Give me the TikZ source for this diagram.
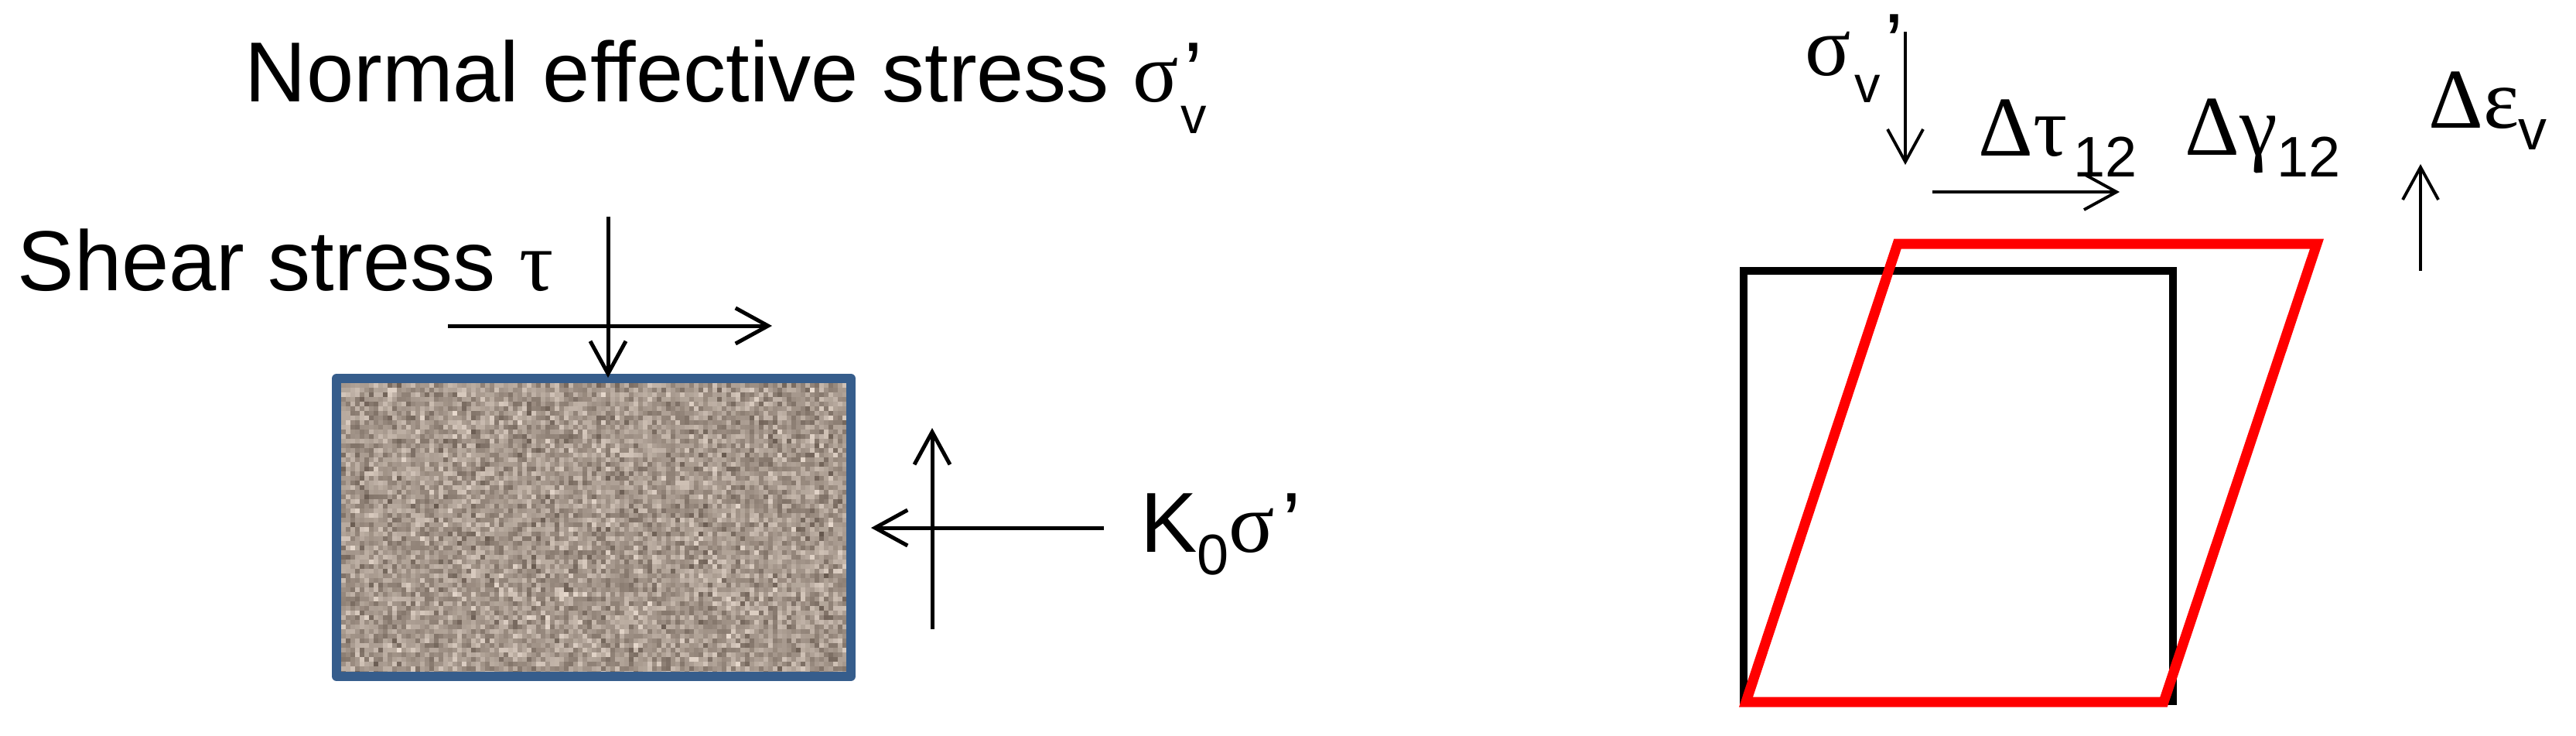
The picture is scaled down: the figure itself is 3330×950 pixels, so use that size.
\documentclass[tikz,border=0pt]{standalone}
\usepackage{fontspec}
\setmainfont{Liberation Sans}
\newfontfamily\gk{Liberation Serif}
\usetikzlibrary{arrows.meta}
\definecolor{boxblue}{RGB}{54,93,140}
\definecolor{sandlight}{RGB}{238,224,212}
\definecolor{sanddark}{RGB}{58,44,34}
\definecolor{sandbase}{RGB}{163,150,139}
\definecolor{shearred}{RGB}{255,0,0}
\tikzset{
  lab/.style={anchor=base west, inner sep=0pt, font=\fontsize{31.3}{36}\selectfont},
  gklab/.style={anchor=base west, inner sep=0pt, font=\gk\fontsize{31.3}{36}\selectfont},
  sublab/.style={anchor=base west, inner sep=0pt, font=\fontsize{19}{22}\selectfont},
  subbig/.style={anchor=base west, inner sep=0pt, font=\fontsize{21}{24}\selectfont},
  force/.style={line width=1.42pt, -{Straight Barb[length=4.2mm,width=4.6mm]}},
  forcethin/.style={line width=1.1pt, -{Straight Barb[length=4.2mm,width=4.6mm]}},
  soilborder/.style={draw=boxblue, line width=3.4pt, line join=round},
  oldbox/.style={draw=black, line width=2.85pt, line join=miter},
  newbox/.style={draw=shearred, line width=3.7pt, line join=miter},
}
\begin{document}
\begin{tikzpicture}[x=0.01cm, y=-0.01cm]
\useasboundingbox (0,0) rectangle (3330,950);

% ---------- left: soil element ----------
\begin{scope}
  \clip (435,489) rectangle (1100,874);
  \fill[sandbase] (435,489) rectangle (1100,874);
  \pgfmathsetseed{12345}
  \foreach \i in {0,...,110}{
    \foreach \j in {0,...,64}{
      \pgfmathtruncatemacro\p{22+78*(rnd+rnd+rnd)/3}
      \fill[sandlight!\p!sanddark] ({435+6*\i},{489+6*\j}) rectangle ++(6.4,6.4);
    }
  }
\end{scope}
\draw[soilborder] (435,489) rectangle (1100,874);
\node[inner sep=0pt, minimum width=0pt] (soil) at (767,681) {};

% title
\node[lab] (title) at (316,131) {Normal effective stress {\gk\fontsize{31.3}{36}\selectfont σ}};
\node[sublab] (titlev) at (1526,172) {v};
\node[lab] (titlep) at (1530,131) {’};

% shear
\node[lab] (shear) at (22,375) {Shear stress {\gk\fontsize{31.3}{36}\selectfont τ}};
\coordinate (vtop) at (786,280);
\coordinate (vbot) at (786,488);
\coordinate (hleft) at (579,421);
\coordinate (hright) at (998,421);
\draw[force] (vtop) -- (vbot);
\draw[force] (hleft) -- (hright);

% lateral
\coordinate (ubot) at (1205,813);
\coordinate (utop) at (1205,553);
\coordinate (lright) at (1427,682);
\coordinate (lleft) at (1126,682);
\draw[force] (ubot) -- (utop);
\draw[force] (lright) -- (lleft);
\node[lab] (kk) at (1474,713) {K};
\node[subbig] (k0) at (1547,742) {0};
\node[gklab] (ks) at (1588,713) {\gk σ};
\node[lab] (kp) at (1657,713) {’};

% ---------- right: shear deformation ----------
\coordinate (a1) at (2254,350);
\coordinate (a2) at (2809,350);
\coordinate (a3) at (2809,906);
\coordinate (a4) at (2254,906);
\draw[oldbox] (a1) -- (a2) -- (a3) -- (a4) -- cycle;
\coordinate (b1) at (2453,315);
\coordinate (b2) at (2995,315);
\coordinate (b3) at (2797,907);
\coordinate (b4) at (2257,907);
\draw[newbox] (b1) -- (b2) -- (b3) -- (b4) -- cycle;

\node[gklab] (rs) at (2333,97) {\gk σ};
\node[sublab] (rsv) at (2397,132) {v};
\node[lab] (rsp) at (2436,94) {’};
\coordinate (rdtop) at (2463,41);
\coordinate (rdbot) at (2463,213);
\draw[forcethin] (rdtop) -- (rdbot);

\node[gklab] (dtau) at (2557,201) {\gk Δτ};
\node[subbig] (dtau12) at (2680,228) {12};
\coordinate (rhl) at (2498,248);
\coordinate (rhr) at (2740,248);
\draw[forcethin] (rhl) -- (rhr);

\node[gklab] (dgam) at (2824,200) {\gk Δγ};
\node[subbig] (dgam12) at (2943,228) {12};

\node[gklab] (deps) at (3139,165) {\gk Δε};
\node[subbig] (depsv) at (3255,193) {v};
\coordinate (rubot) at (3129,350);
\coordinate (rutop) at (3129,212);
\draw[forcethin] (rubot) -- (rutop);
\end{tikzpicture}
\end{document}
